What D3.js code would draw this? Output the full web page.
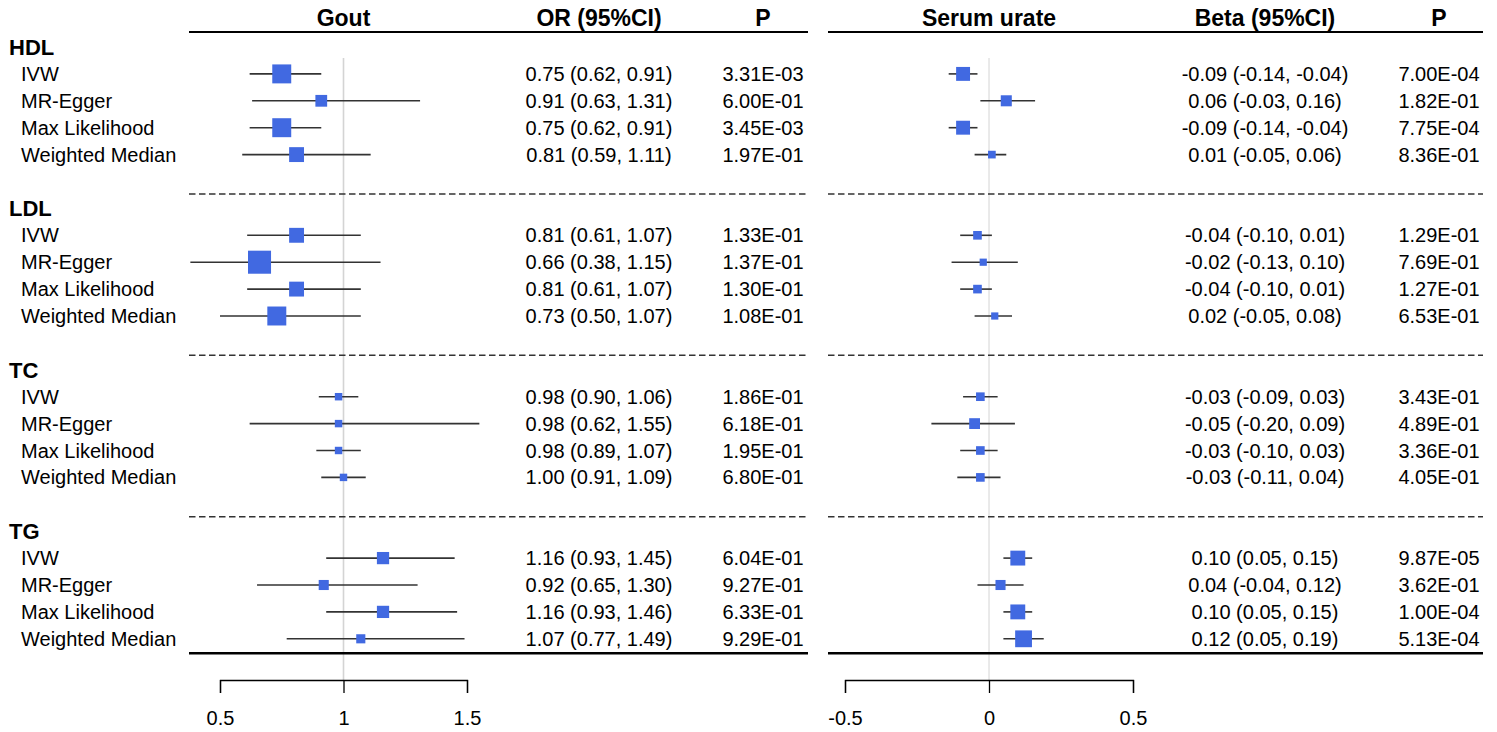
<!DOCTYPE html>
<html>
<head>
<meta charset="utf-8">
<script src="https://cdn.jsdelivr.net/npm/d3@7"></script>
<style>
  body { margin: 0; background: #fff; }
  text { font-family: "Liberation Sans", Arial, sans-serif; fill: #000; }
</style>
</head>
<body>
<div id="chart"></div>
<script>
// ---- data ----
var groups = ["HDL", "LDL", "TC", "TG"];
var methods = ["IVW", "MR-Egger", "Max Likelihood", "Weighted Median"];

var goutOR = [0.75, 0.91, 0.75, 0.81, 0.81, 0.66, 0.81, 0.73, 0.98, 0.98, 0.98, 1.00, 1.16, 0.92, 1.16, 1.07];
var goutLo = [0.62, 0.63, 0.62, 0.59, 0.61, 0.38, 0.61, 0.50, 0.90, 0.62, 0.89, 0.91, 0.93, 0.65, 0.93, 0.77];
var goutHi = [0.91, 1.31, 0.91, 1.11, 1.07, 1.15, 1.07, 1.07, 1.06, 1.55, 1.07, 1.09, 1.45, 1.30, 1.46, 1.49];
var goutP = ["3.31E-03", "6.00E-01", "3.45E-03", "1.97E-01", "1.33E-01", "1.37E-01", "1.30E-01", "1.08E-01",
             "1.86E-01", "6.18E-01", "1.95E-01", "6.80E-01", "6.04E-01", "9.27E-01", "6.33E-01", "9.29E-01"];
var goutWeight = [0.79, 0.49, 0.79, 0.62, 0.62, 0.96, 0.62, 0.79, 0.31, 0.31, 0.31, 0.31, 0.51, 0.42, 0.51, 0.38];

var urateBeta = [-0.09, 0.06, -0.09, 0.01, -0.04, -0.02, -0.04, 0.02, -0.03, -0.05, -0.03, -0.03, 0.10, 0.04, 0.10, 0.12];
var urateLo = [-0.14, -0.03, -0.14, -0.05, -0.10, -0.13, -0.10, -0.05, -0.09, -0.20, -0.10, -0.11, 0.05, -0.04, 0.05, 0.05];
var urateHi = [-0.04, 0.16, -0.04, 0.06, 0.01, 0.10, 0.01, 0.08, 0.03, 0.09, 0.03, 0.04, 0.15, 0.12, 0.15, 0.19];
var urateP = ["7.00E-04", "1.82E-01", "7.75E-04", "8.36E-01", "1.29E-01", "7.69E-01", "1.27E-01", "6.53E-01",
              "3.43E-01", "4.89E-01", "3.36E-01", "4.05E-01", "9.87E-05", "3.62E-01", "1.00E-04", "5.13E-04"];
var urateWeight = [0.58, 0.46, 0.58, 0.32, 0.36, 0.30, 0.36, 0.30, 0.36, 0.45, 0.36, 0.36, 0.62, 0.42, 0.62, 0.70];

var goutTicks = [0.5, 1, 1.5];
var urateTicks = [-0.5, 0, 0.5];

// ---- layout ----
var width = 1497, height = 732;
var blue = "#4169E1";
var fmt = d3.formatLocale({decimal: ".", thousands: ",", grouping: [3], currency: ["", ""], minus: "-"}).format(".2f");

var svg = d3.select("#chart").append("svg")
    .attr("width", width)
    .attr("height", height);

// row index -> y (heading at 6g, methods at 6g+1..6g+4)
var rowY = d3.scaleLinear().domain([0, 1]).range([47, 47 + 26.9]);
var size = d3.scaleLinear().domain([0, 1]).range([0, 24]);

var rows = [];
groups.forEach(function(g, gi) {
  methods.forEach(function(m, mi) {
    rows.push({group: g, method: m, i: gi * 4 + mi, row: gi * 6 + mi + 1});
  });
});

var axisY = 680;

var panels = [
  {
    title: "Gout", estTitle: "OR (95%CI)",
    x: d3.scaleLinear().domain([0.5, 1.5]).range([220, 467]),
    ref: 1, ticks: goutTicks, tickFmt: function(d) { return String(d); },
    est: goutOR, lo: goutLo, hi: goutHi, p: goutP, w: goutWeight,
    left: 189, right: 808, estX: 599, pX: 763, refW: 1.6
  },
  {
    title: "Serum urate", estTitle: "Beta (95%CI)",
    x: d3.scaleLinear().domain([-0.5, 0.5]).range([845, 1133]),
    ref: 0, ticks: urateTicks, tickFmt: function(d) { return d === 0 ? "0" : String(d); },
    est: urateBeta, lo: urateLo, hi: urateHi, p: urateP, w: urateWeight,
    left: 828, right: 1483, estX: 1265, pX: 1439, refW: 1
  }
];

// labels column
groups.forEach(function(g, gi) {
  svg.append("text")
      .attr("x", 9)
      .attr("y", rowY(gi * 6))
      .attr("dy", "0.35em")
      .style("font-size", "22px")
      .style("font-weight", "bold")
      .text(g);
});
svg.selectAll(".method")
    .data(rows)
  .enter().append("text")
    .attr("class", "method")
    .attr("x", 21)
    .attr("y", function(d) { return rowY(d.row); })
    .attr("dy", "0.35em")
    .style("font-size", "20px")
    .text(function(d) { return d.method; });

panels.forEach(function(p) {
  var g = svg.append("g");

  // reference line
  g.append("line")
      .attr("x1", p.x(p.ref)).attr("x2", p.x(p.ref))
      .attr("y1", 58).attr("y2", axisY)
      .attr("stroke", "#d4d4d4")
      .attr("stroke-width", p.refW);

  // header
  [[p.title, p.x(p.ref)], [p.estTitle, p.estX], ["P", p.pX]].forEach(function(h) {
    g.append("text")
        .attr("x", h[1])
        .attr("y", rowY(-1.08))
        .attr("dy", "0.35em")
        .attr("text-anchor", "middle")
        .style("font-size", "23px")
        .style("font-weight", "bold")
        .text(h[0]);
  });
  g.append("line")
      .attr("x1", p.left).attr("x2", p.right)
      .attr("y1", 32).attr("y2", 32)
      .attr("stroke", "#000")
      .attr("stroke-width", 2);

  // dashed separators
  [5.5, 11.5, 17.5].forEach(function(r) {
    g.append("line")
        .attr("x1", p.left).attr("x2", p.right)
        .attr("y1", rowY(r) - 1).attr("y2", rowY(r) - 1)
        .attr("stroke", "#333")
        .attr("stroke-width", 1.5)
        .attr("stroke-dasharray", "6.5,3.5");
  });

  // bottom line
  g.append("line")
      .attr("x1", p.left).attr("x2", p.right)
      .attr("y1", rowY(22.5) + 1).attr("y2", rowY(22.5) + 1)
      .attr("stroke", "#000")
      .attr("stroke-width", 2.5);

  // CI lines
  g.selectAll(".ci")
      .data(rows)
    .enter().append("line")
      .attr("class", "ci")
      .attr("x1", function(d) { return p.x(p.lo[d.i]); })
      .attr("x2", function(d) { return p.x(p.hi[d.i]); })
      .attr("y1", function(d) { return rowY(d.row); })
      .attr("y2", function(d) { return rowY(d.row); })
      .attr("stroke", "#333")
      .attr("stroke-width", 1.6);

  // boxes
  g.selectAll(".box")
      .data(rows)
    .enter().append("rect")
      .attr("class", "box")
      .attr("x", function(d) { return p.x(p.est[d.i]) - size(p.w[d.i]) / 2; })
      .attr("y", function(d) { return rowY(d.row) - size(p.w[d.i]) / 2; })
      .attr("width", function(d) { return size(p.w[d.i]); })
      .attr("height", function(d) { return size(p.w[d.i]); })
      .attr("fill", blue);

  // estimate text
  g.selectAll(".est")
      .data(rows)
    .enter().append("text")
      .attr("x", p.estX)
      .attr("y", function(d) { return rowY(d.row); })
      .attr("dy", "0.35em")
      .attr("text-anchor", "middle")
      .style("font-size", "20px")
      .text(function(d) {
        return fmt(p.est[d.i]) + " (" + fmt(p.lo[d.i]) + ", " + fmt(p.hi[d.i]) + ")";
      });

  // p text
  g.selectAll(".pv")
      .data(rows)
    .enter().append("text")
      .attr("x", p.pX)
      .attr("y", function(d) { return rowY(d.row); })
      .attr("dy", "0.35em")
      .attr("text-anchor", "middle")
      .style("font-size", "20px")
      .text(function(d) { return p.p[d.i]; });

  // axis
  var axis = d3.axisBottom(p.x)
      .tickValues(p.ticks)
      .tickFormat(p.tickFmt)
      .tickSize(13)
      .tickPadding(18);
  var ax = g.append("g")
      .attr("transform", "translate(0," + axisY + ")")
      .call(axis);
  ax.selectAll("path, line").attr("stroke", "#000").attr("stroke-width", 1.3);
  ax.selectAll("text")
      .style("font-size", "20px")
      .style("font-family", "'Liberation Sans', Arial, sans-serif")
      .attr("fill", "#000");
});
</script>
</body>
</html>
